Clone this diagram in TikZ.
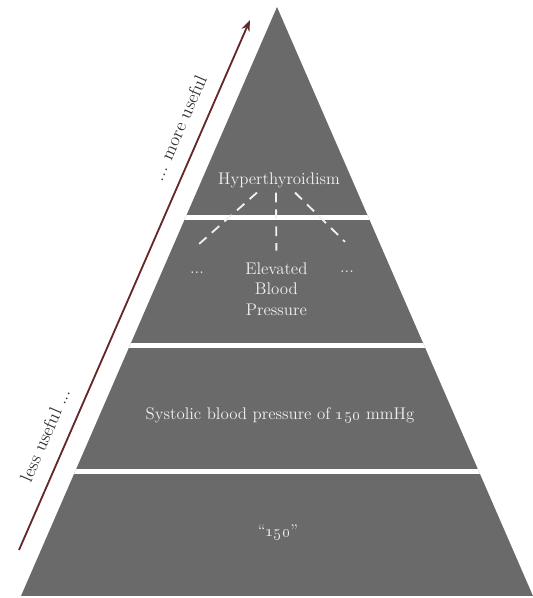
\documentclass[tikz,border=0pt]{standalone}
\usetikzlibrary{arrows.meta, positioning, calc}
\definecolor{pyr_gray}{RGB}{106, 106, 106}
\definecolor{pyr_arrow}{RGB}{100, 40, 40}
\definecolor{pyr_text}{RGB}{240, 240, 240}

\begin{document}
\begin{tikzpicture}[font=\fontsize{12}{14.5}\selectfont,
          lvl/.style={text=pyr_text, align=center},
          link/.style={pyr_text, line width=1.3pt, dash pattern=on 7pt off 5pt},
          gap/.style={white, line width=0.125cm},
          arr/.style={-{Stealth[length=8pt, width=6pt]}, line width=1.3pt, pyr_arrow},
          side/.style={sloped, above=0.25cm, text=black!80,
                       font=\fontsize{13}{15}\selectfont}]
          \useasboundingbox (0, 0) rectangle (13.3, 14.95);
          % pyramid with white gaps between the levels
          \coordinate (top) at (6.925, 14.775);
          \coordinate (bl) at (0.525, 0.05);
          \coordinate (br) at (13.325, 0.05);
          \fill[pyr_gray] (bl) -- (top) -- (br) -- cycle;
          \begin{scope}
            \clip (bl) -- (top) -- (br) -- cycle;
            \foreach \y in {3.1625, 6.3125, 9.5}
              \draw[gap] (0, \y) -- (13.3, \y);
          \end{scope}
          % levels
          \node[lvl] (num) at (6.95, 1.65) {“\oldstylenums{150}”};
          \node[lvl] (sys) at (7.0, 4.575)
            {Systolic blood pressure of \oldstylenums{150} mmHg};
          \node[lvl] (ebp) at (6.91, 7.725) {Elevated\\Blood\\Pressure};
          \node[lvl] (dotsl) at (4.925, 8.125) {...};
          \node[lvl] (dotsr) at (8.675, 8.15) {...};
          \node[lvl] (hyp) at (6.975, 10.45) {Hyperthyroidism};
          \draw[link] ([xshift=-0.55cm]hyp.south) -- ([shift={(-0.05, 0.49)}]dotsl.north);
          \draw[link] ([xshift=-0.075cm]hyp.south) -- ([yshift=0.18cm]ebp.north);
          \draw[link] ([xshift=0.4cm]hyp.south) -- ([shift={(-0.05, 0.61)}]dotsr.north);
          % usefulness arrow
          \coordinate (low) at (0.475, 1.2);
          \coordinate (high) at (6.25, 14.45);
          \draw[arr] (low) -- (high)
            node[side, pos=0.2] (less) {less useful ...}
            node[side, pos=0.78] (more) {... more useful};
        \end{tikzpicture}
\end{document}
